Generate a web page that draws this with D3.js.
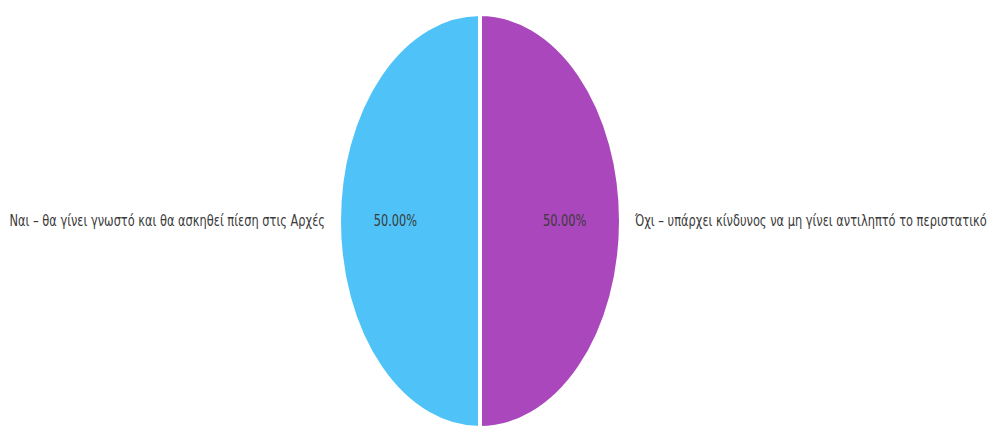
<!DOCTYPE html>
<html>
<head>
<meta charset="utf-8">
<script src="https://cdn.jsdelivr.net/npm/d3@7/dist/d3.min.js"></script>
<style>
  html, body { margin: 0; padding: 0; background: #fff; }
  svg { display: block; }
  text { font-family: "DejaVu Sans Condensed", "DejaVu Sans", sans-serif; font-stretch: condensed; }
</style>
</head>
<body>
<svg id="chart" width="989" height="428"></svg>
<script>
const categories = [
  "Ναι – θα γίνει γνωστό και θα ασκηθεί πίεση στις Αρχές",
  "Όχι – υπάρχει κίνδυνος να μη γίνει αντιληπτό το περιστατικό"
];
const values = [50, 50];
const colors = ["#4fc3f7", "#ab47bc"];

const svg = d3.select("#chart");
const cx = 480, cy = 221, rx = 141, ry = 207;
const R = 100;
const condense = 0.845; // horizontal squeeze to mimic the narrow label font

const pie = d3.pie().sort(null).startAngle(Math.PI).endAngle(3 * Math.PI);
const arcs = pie(values);
const arc = d3.arc().innerRadius(0).outerRadius(R);
const total = d3.sum(values);

const g = svg.append("g").attr("transform", `translate(${cx},${cy})`);
const sg = g.append("g").attr("transform", `scale(${rx / R},${ry / R})`);

sg.selectAll("path").data(arcs).join("path")
  .attr("d", arc)
  .attr("fill", (d, i) => colors[i])
  .attr("stroke", "#fff")
  .attr("stroke-width", 4)
  .attr("vector-effect", "non-scaling-stroke");

// percentage labels
const inner = d3.arc().innerRadius(R * 0.6).outerRadius(R * 0.6);
g.selectAll("text.pct").data(arcs).join("text")
  .attr("class", "pct")
  .attr("transform", d => `translate(${inner.centroid(d)[0] * rx / R},${inner.centroid(d)[1] * ry / R}) scale(${condense},1)`)
  .attr("dy", "0.35em")
  .attr("text-anchor", "middle")
  .attr("fill", "#3a3a3a")
  .attr("font-size", 15)
  .text(d => (d.value / total * 100).toFixed(2) + "%");

// category labels
const outer = d3.arc().innerRadius(R).outerRadius(R);
g.selectAll("text.cat").data(arcs).join("text")
  .attr("class", "cat")
  .attr("transform", d => {
    const c = outer.centroid(d)[0] * rx / R;
    const x = c < 0 ? c - 14 : c + 14;
    return `translate(${x},${outer.centroid(d)[1] * ry / R}) scale(${condense},1)`;
  })
  .attr("dy", "0.35em")
  .attr("text-anchor", d => outer.centroid(d)[0] < 0 ? "end" : "start")
  .attr("fill", "#3a3a3a")
  .attr("font-size", 15)
  .text((d, i) => categories[i]);
</script>
</body>
</html>
